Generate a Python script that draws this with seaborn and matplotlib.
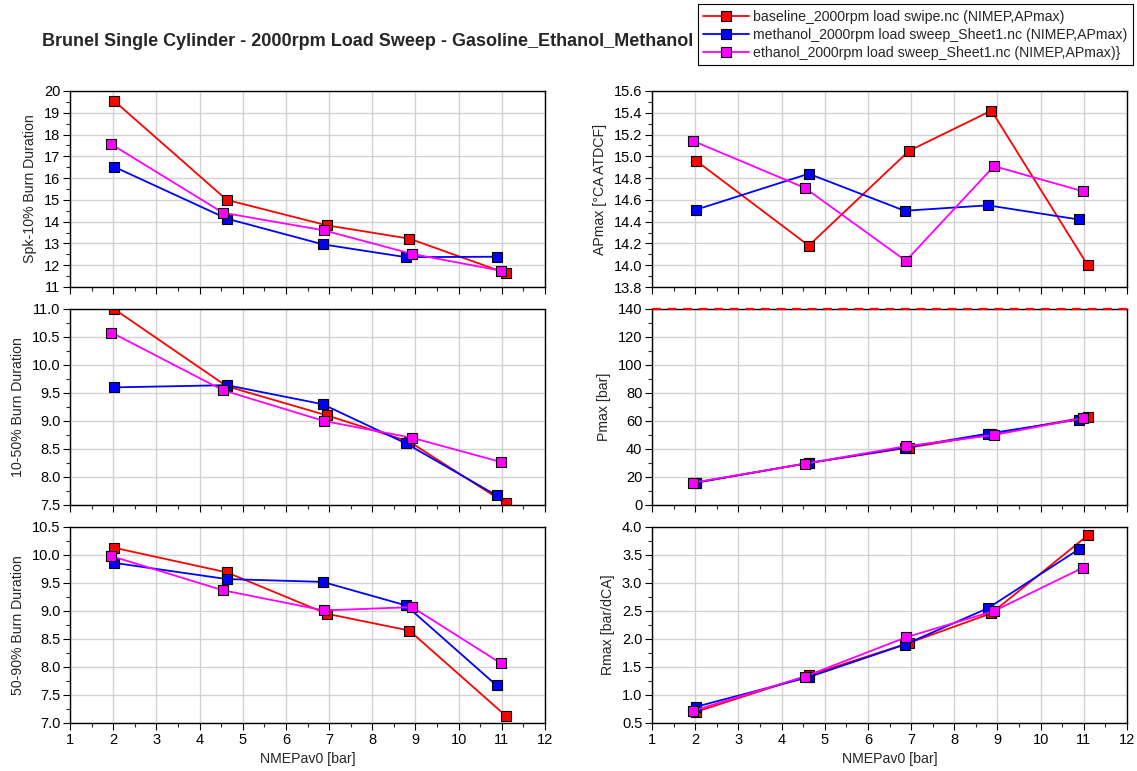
import matplotlib
matplotlib.use("Agg")
import matplotlib.pyplot as plt
import seaborn as sns
import pandas as pd
from matplotlib.ticker import MultipleLocator, AutoMinorLocator

# ---------------- data ----------------
series_names = [
    "baseline_2000rpm load swipe.nc (NIMEP,APmax)",
    "methanol_2000rpm load sweep_Sheet1.nc (NIMEP,APmax)",
    "ethanol_2000rpm load sweep_Sheet1.nc (NIMEP,APmax)}",
]
series_colors = ["#ff0000", "#0000ff", "#ff00ff"]

x_baseline = [2.02, 4.63, 6.95, 8.86, 11.09]
x_methanol = [2.02, 4.63, 6.85, 8.78, 10.88]
x_ethanol = [1.96, 4.54, 6.88, 8.92, 10.97]

spk10_baseline = [19.55, 15.00, 13.83, 13.22, 11.64]
spk10_methanol = [16.52, 14.14, 12.96, 12.37, 12.39]
spk10_ethanol = [17.55, 14.41, 13.60, 12.52, 11.75]

apmax_baseline = [14.96, 14.18, 15.05, 15.42, 14.00]
apmax_methanol = [14.51, 14.84, 14.50, 14.55, 14.42]
apmax_ethanol = [15.14, 14.71, 14.04, 14.91, 14.68]

b1050_baseline = [11.00, 9.62, 9.10, 8.63, 7.53]
b1050_methanol = [9.60, 9.64, 9.30, 8.60, 7.67]
b1050_ethanol = [10.58, 9.55, 9.00, 8.70, 8.27]

pmax_baseline = [16.0, 30.0, 41.0, 50.5, 63.0]
pmax_methanol = [16.0, 30.0, 41.0, 51.0, 61.0]
pmax_ethanol = [16.0, 29.5, 42.0, 50.0, 62.0]

b5090_baseline = [10.13, 9.69, 8.95, 8.65, 7.13]
b5090_methanol = [9.86, 9.57, 9.52, 9.10, 7.67]
b5090_ethanol = [9.98, 9.37, 9.01, 9.07, 8.07]

rmax_baseline = [0.70, 1.35, 1.93, 2.46, 3.85]
rmax_methanol = [0.79, 1.32, 1.90, 2.55, 3.60]
rmax_ethanol = [0.72, 1.33, 2.03, 2.50, 3.27]

pmax_limit = 140.0

title = "Brunel Single Cylinder - 2000rpm Load Sweep - Gasoline_Ethanol_Methanol"
xlabel = "NMEPav0 [bar]"

panels = [
    # (row, col, ylabel, data, ylim, ymajor)
    (0, 0, "Spk-10% Burn Duration", (spk10_baseline, spk10_methanol, spk10_ethanol), (11, 20), 1),
    (0, 1, "APmax [°CA ATDCF]", (apmax_baseline, apmax_methanol, apmax_ethanol), (13.8, 15.6), 0.2),
    (1, 0, "10-50% Burn Duration", (b1050_baseline, b1050_methanol, b1050_ethanol), (7.5, 11.0), 0.5),
    (1, 1, "Pmax [bar]", (pmax_baseline, pmax_methanol, pmax_ethanol), (0, 140), 20),
    (2, 0, "50-90% Burn Duration", (b5090_baseline, b5090_methanol, b5090_ethanol), (7.0, 10.5), 0.5),
    (2, 1, "Rmax [bar/dCA]", (rmax_baseline, rmax_methanol, rmax_ethanol), (0.5, 4.0), 0.5),
]
xs = [x_baseline, x_methanol, x_ethanol]

# ---------------- figure ----------------
sns.set_theme(style="white")
plt.rcParams["font.family"] = ["Liberation Sans", "DejaVu Sans"]

W, H = 1137, 771
fig = plt.figure(figsize=(W / 100, H / 100), dpi=100)

col_left = [70, 652]
ax_w = 475
row_top = [91, 309, 527]
ax_h = 196

fmt = {
    (0, 0): "{:.0f}", (0, 1): "{:.1f}", (1, 0): "{:.1f}",
    (1, 1): "{:.0f}", (2, 0): "{:.1f}", (2, 1): "{:.1f}",
}

handles = None
for row, col, ylabel, vals, ylim, ymaj in panels:
    left = col_left[col] / W
    bottom = 1 - (row_top[row] + ax_h) / H
    ax = fig.add_axes([left, bottom, ax_w / W, ax_h / H])
    frames = []
    for name, x, y in zip(series_names, xs, vals):
        frames.append(pd.DataFrame({"x": x, "y": y, "series": name}))
    df = pd.concat(frames, ignore_index=True)
    if row == 1 and col == 1:
        ax.axhline(pmax_limit, color="#ff0000", lw=1.6, ls=(0, (4, 3)), zorder=5, clip_on=False)
    sns.lineplot(
        data=df, x="x", y="y", hue="series", hue_order=series_names,
        palette=series_colors, sort=False, estimator=None, units="series",
        marker="s", markersize=7.5, markeredgecolor="black", markeredgewidth=0.8,
        linewidth=1.3, ax=ax, legend=True,
    )
    if handles is None:
        handles, labels = ax.get_legend_handles_labels()
    ax.get_legend().remove()

    ax.set_xlim(1, 12)
    ax.set_ylim(*ylim)
    ax.xaxis.set_major_locator(MultipleLocator(1))
    ax.xaxis.set_minor_locator(AutoMinorLocator(2))
    ax.yaxis.set_major_locator(MultipleLocator(ymaj))
    ax.yaxis.set_minor_locator(AutoMinorLocator(2))
    f = fmt[(row, col)]
    ax.set_yticks(ax.get_yticks())
    ax.set_yticklabels([f.format(v) for v in ax.get_yticks()])
    ax.set_ylim(*ylim)
    ax.grid(True, which="major", color="#d2d2d2", lw=1.0)
    ax.set_axisbelow(True)
    for s in ax.spines.values():
        s.set_visible(True)
        s.set_color("black")
        s.set_linewidth(1.0)
    ax.tick_params(axis="both", which="major", direction="out", length=5, width=0.8,
                   labelsize=10.5, colors="black", left=True, bottom=True, pad=2)
    ax.tick_params(axis="both", which="minor", direction="out", length=3, width=0.8,
                   left=True, bottom=True)
    ax.set_ylabel(ylabel, fontsize=10.2, labelpad=5)
    if row == 2:
        ax.set_xlabel(xlabel, fontsize=10.2, labelpad=4)
        ax.set_xticklabels([f"{v:.0f}" for v in ax.get_xticks()])
    else:
        ax.set_xlabel("")
        ax.tick_params(axis="x", labelbottom=False)

fig.text(42 / W, 1 - 42 / H, title, fontsize=13, fontweight="bold", va="center", ha="left")

leg = fig.legend(
    handles, labels, loc="upper right", bbox_to_anchor=(1133 / W, 1 - 4 / H),
    fontsize=10.2, frameon=True, fancybox=False, framealpha=1, edgecolor="black",
    handlelength=3.2, handletextpad=0.3, labelspacing=0.28, borderpad=0.4,
    borderaxespad=0,
)
leg.get_frame().set_linewidth(0.8)

fig.savefig("out.png", dpi=100)
